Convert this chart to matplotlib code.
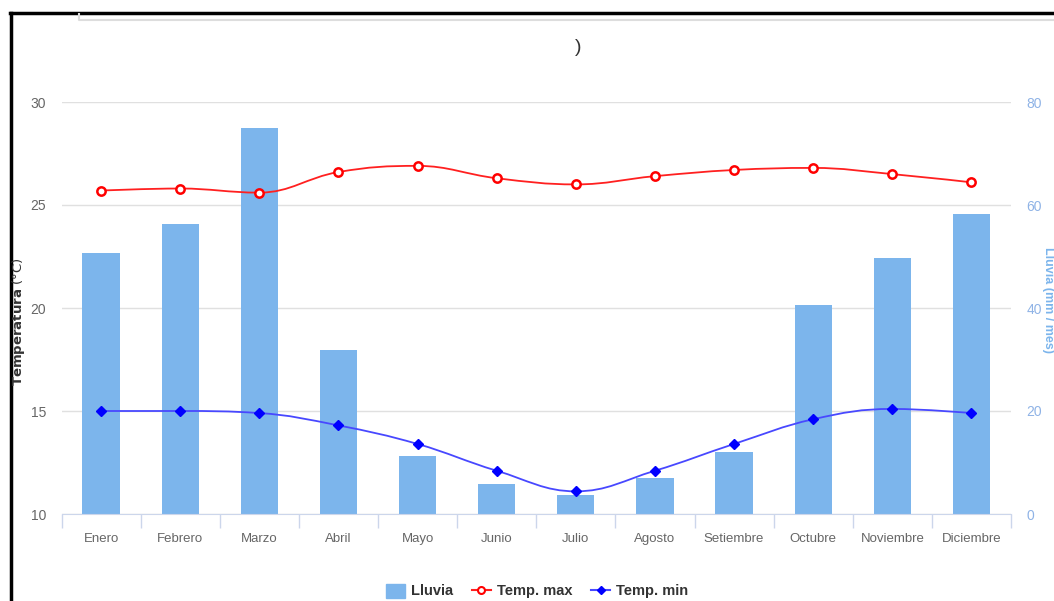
import numpy as np
import matplotlib.pyplot as plt
from matplotlib.path import Path
from matplotlib.patches import PathPatch
from matplotlib.lines import Line2D

plt.rcParams['font.family'] = ['Liberation Sans', 'DejaVu Sans']

meses = ["Enero", "Febrero", "Marzo", "Abril", "Mayo", "Junio", "Julio",
         "Agosto", "Setiembre", "Octubre", "Noviembre", "Diciembre"]
lluvia = [50.7, 56.3, 75.0, 31.8, 11.3, 5.8, 3.7, 7.0, 12.0, 40.6, 49.7, 58.3]
temp_max = [25.7, 25.8, 25.6, 26.6, 26.9, 26.3, 26.0, 26.4, 26.7, 26.8, 26.5, 26.1]
temp_min = [15.0, 15.0, 14.9, 14.3, 13.4, 12.1, 11.1, 12.1, 13.4, 14.6, 15.1, 14.9]

AZUL = "#7cb5ec"
GRIS = "#666666"
EJE = "#ccd6eb"


# curva suave tipo spline (highcharts) con bezier entre los puntos
def spline_path(xs, ys, smoothing=1.5):
    n = len(xs)
    denom = smoothing + 1
    left = [None] * n
    right = [None] * n
    for i in range(n):
        x, y = xs[i], ys[i]
        if 0 < i < n - 1:
            lx, ly = xs[i - 1], ys[i - 1]
            nx, ny = xs[i + 1], ys[i + 1]
            lcx = (smoothing * x + lx) / denom
            lcy = (smoothing * y + ly) / denom
            rcx = (smoothing * x + nx) / denom
            rcy = (smoothing * y + ny) / denom
            corr = ((rcy - lcy) * (rcx - x)) / (rcx - lcx) + y - rcy
            lcy += corr
            rcy += corr
            if lcy > ly and lcy > y:
                lcy = max(ly, y)
                rcy = 2 * y - lcy
            elif lcy < ly and lcy < y:
                lcy = min(ly, y)
                rcy = 2 * y - lcy
            if rcy > ny and rcy > y:
                rcy = max(ny, y)
                lcy = 2 * y - rcy
            elif rcy < ny and rcy < y:
                rcy = min(ny, y)
                lcy = 2 * y - rcy
            left[i] = (lcx, lcy)
            right[i] = (rcx, rcy)
        else:
            left[i] = (x, y)
            right[i] = (x, y)
    verts = [(xs[0], ys[0])]
    codes = [Path.MOVETO]
    for i in range(1, n):
        verts += [right[i - 1], left[i], (xs[i], ys[i])]
        codes += [Path.CURVE4] * 3
    return Path(verts, codes)


fig = plt.figure(figsize=(10.54, 6.01), dpi=100)
ax = fig.add_axes([61.5 / 1054, 1 - 514 / 601, (1011 - 61.5) / 1054, 412 / 601])
ax_r = ax.twinx()
ax.set_zorder(ax_r.get_zorder() + 1)
ax.patch.set_visible(False)

x = np.arange(len(meses))

# lluvia en eje derecho
ax_r.bar(x, lluvia, width=0.47, color=AZUL, zorder=2)
ax_r.set_ylim(0, 80)
ax_r.set_yticks([0, 20, 40, 60, 80])
ax_r.grid(axis='y', color="#e0e0e0", linewidth=1)
ax_r.set_axisbelow(True)
ax_r.tick_params(axis='y', length=0, pad=11, labelsize=10, labelcolor="#8fb3e6")

# temperaturas
ax.set_ylim(10, 30)
ax.set_yticks([10, 15, 20, 25, 30])
ax.tick_params(axis='y', length=0, pad=11, labelsize=10, labelcolor=GRIS)
ax.set_xlim(-0.5, len(meses) - 0.5)

ax.add_patch(PathPatch(spline_path(x, temp_max), facecolor='none',
                       edgecolor="#ff2020", linewidth=1.3, zorder=3))
ax.add_patch(PathPatch(spline_path(x, temp_min), facecolor='none',
                       edgecolor="#4848ff", linewidth=1.3, zorder=3))
ax.plot(x, temp_max, linestyle='none', marker='o', markersize=6,
        markerfacecolor='white', markeredgecolor='red', markeredgewidth=1.8, zorder=4)
ax.plot(x, temp_min, linestyle='none', marker='D', markersize=5,
        markerfacecolor='blue', markeredgecolor='blue', zorder=4)

ax.set_xticks(x)
ax.set_xticklabels(meses)
ax.set_xticks(np.arange(-0.5, len(meses)), minor=True)
ax.tick_params(axis='x', which='major', length=0, pad=13.5, labelsize=9.5, labelcolor=GRIS)
ax.tick_params(axis='x', which='minor', length=10, color=EJE, width=1)
ax_r.tick_params(axis='x', length=0)

for a in (ax, ax_r):
    for s in a.spines.values():
        s.set_visible(False)
ax.spines['bottom'].set_visible(True)
ax.spines['bottom'].set_color(EJE)

# titulos de ejes
fig.text(19 / 1054, 1 - 322 / 601, r"$\mathbf{Temperatura}$ (°C)", rotation=90,
         ha='center', va='center', fontsize=9.5, color="#333333", family='DejaVu Sans')
fig.text(1048 / 1054, 1 - 300 / 601, "Lluvia (mm / mes)", rotation=270, ha='center',
         va='center', fontsize=9, color=AZUL, fontweight='bold')

fig.text(578 / 1054, 1 - 48 / 601, ")", ha='center', va='center', fontsize=14, color="#333333")

# leyenda
handles = [
    plt.Rectangle((0, 0), 1, 1, color=AZUL),
    Line2D([], [], color="#ff2020", marker='o', markerfacecolor='white',
           markeredgecolor='red', markeredgewidth=1.5, markersize=5),
    Line2D([], [], color="#4848ff", marker='D', markerfacecolor='blue',
           markeredgecolor='blue', markersize=4.5),
]
fig.legend(handles, ["Lluvia", "Temp. max", "Temp. min"], loc='center',
           bbox_to_anchor=(537 / 1054, 1 - 591 / 601), ncol=3, frameon=False,
           prop={'weight': 'bold', 'size': 10.5}, labelcolor="#333333",
           handlelength=1.3, handleheight=1.1, handletextpad=0.4, columnspacing=1.3)

# marco negro y caja gris de arriba
fig.add_artist(Line2D([11 / 1054, 11 / 1054], [0, 1 - 13 / 601], color='black',
                      linewidth=2.5, transform=fig.transFigure))
fig.add_artist(Line2D([10 / 1054, 1], [1 - 13 / 601, 1 - 13 / 601], color='black',
                      linewidth=2.5, transform=fig.transFigure))
fig.add_artist(Line2D([79 / 1054, 79 / 1054, 1], [1 - 14 / 601, 1 - 20 / 601, 1 - 20 / 601],
                      color='#dddddd', linewidth=1.5, transform=fig.transFigure))

fig.savefig("out.png", dpi=100)
